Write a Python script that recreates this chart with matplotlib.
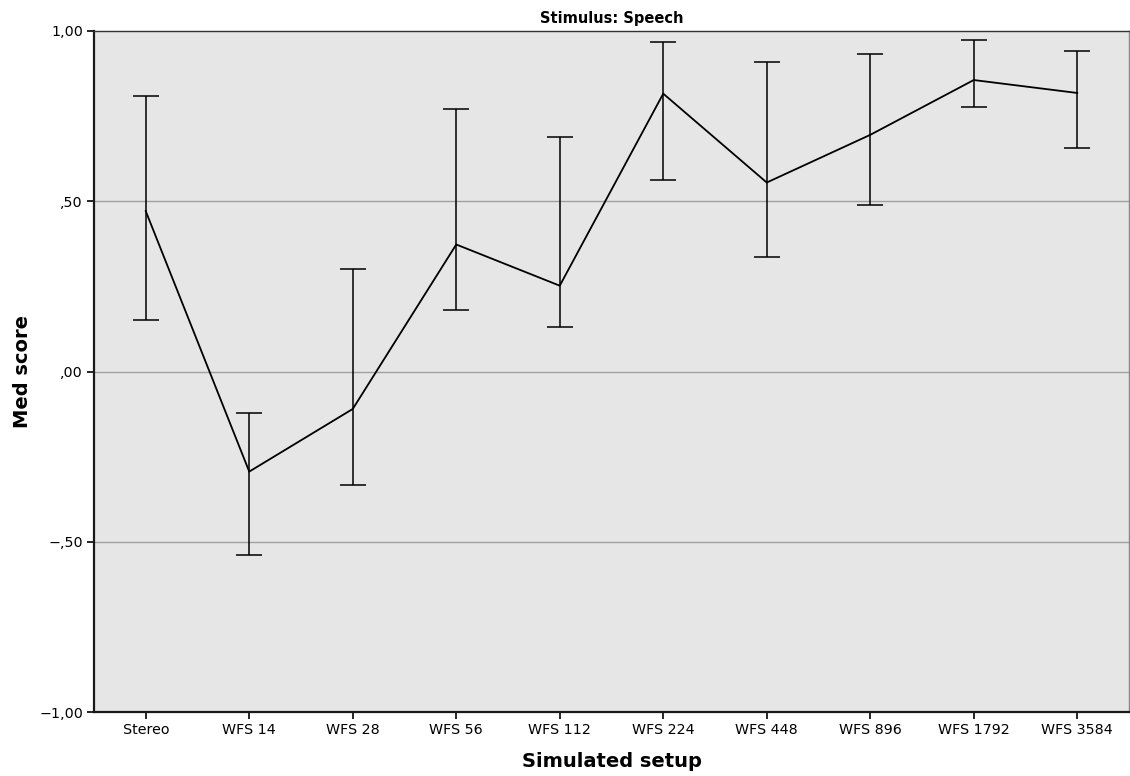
import matplotlib
matplotlib.use("Agg")
import matplotlib.pyplot as plt
import numpy as np

# data
setups = ["Stereo", "WFS 14", "WFS 28", "WFS 56", "WFS 112",
          "WFS 224", "WFS 448", "WFS 896", "WFS 1792", "WFS 3584"]
mean_score = [0.471, -0.294, -0.110, 0.373, 0.252, 0.816, 0.555, 0.695, 0.856, 0.818]
ci_upper = [0.810, -0.121, 0.300, 0.772, 0.688, 0.968, 0.910, 0.933, 0.974, 0.941]
ci_lower = [0.152, -0.538, -0.332, 0.182, 0.131, 0.563, 0.337, 0.489, 0.776, 0.656]
y_ticks = [-1.0, -0.5, 0.0, 0.5, 1.0]
y_tick_labels = ["\u22121,00", "\u2212,50", ",00", ",50", "1,00"]

fig = plt.figure(figsize=(11.3, 7.76), dpi=100)
ax = fig.add_axes([94 / 1130, 64 / 776, 1035 / 1130, 681 / 776])
ax.set_facecolor("#e6e6e6")

x = np.arange(len(setups))
mean_arr = np.array(mean_score)
err = [mean_arr - np.array(ci_lower), np.array(ci_upper) - mean_arr]

for yv in [-0.5, 0.0, 0.5]:
    ax.axhline(yv, color="#a0a0a0", lw=1.0, zorder=1)

ax.errorbar(x, mean_arr, yerr=err, color="black", lw=1.3, elinewidth=1.1,
            capsize=9.5, capthick=1.1, zorder=3)

ax.set_xlim(-0.5, len(setups) - 0.5)
ax.set_ylim(-1.0, 1.0)
ax.set_xticks(x)
ax.set_xticklabels(setups, fontsize=10.3)
ax.set_yticks(y_ticks)
ax.set_yticklabels(y_tick_labels, fontsize=10.3)
ax.tick_params(direction="out", length=5, width=1.2, color="black", pad=3)

for side in ["left", "bottom"]:
    ax.spines[side].set_linewidth(1.6)
    ax.spines[side].set_color("#1a1a1a")
ax.spines["top"].set_linewidth(1.0)
ax.spines["top"].set_color("#333333")
ax.spines["right"].set_linewidth(1.0)
ax.spines["right"].set_color("#888888")

ax.set_title("Stimulus: Speech", fontsize=10.5, fontweight="bold", pad=6)
ax.set_xlabel("Simulated setup", fontsize=14, fontweight="bold", va="center")
ax.xaxis.set_label_coords(0.5, -0.073)
ax.set_ylabel("Med score", fontsize=14, fontweight="bold")
ax.yaxis.set_label_coords(-0.06, 0.5)

fig.savefig("out.png", dpi=100)
